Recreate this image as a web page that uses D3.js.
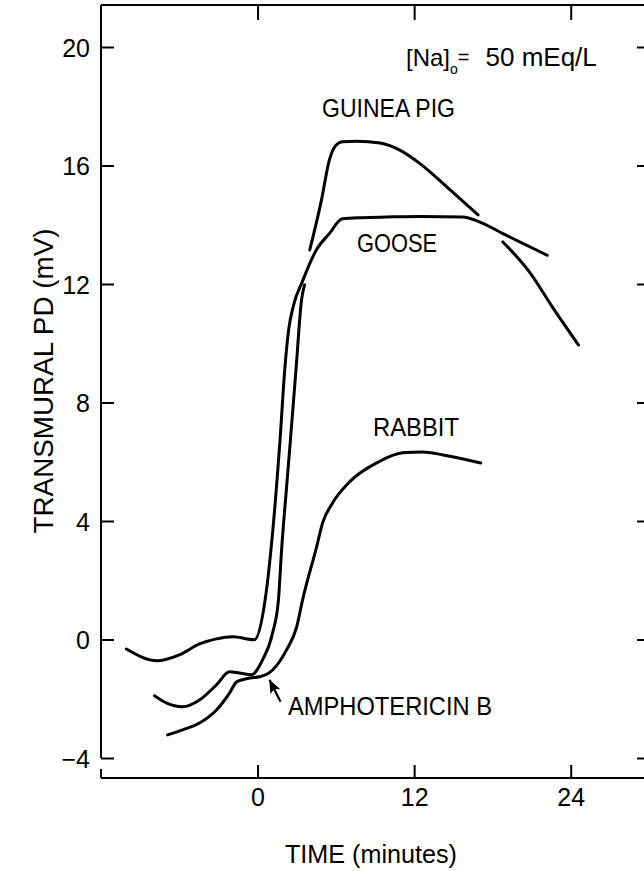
<!DOCTYPE html>
<html>
<head>
<meta charset="utf-8">
<script src="https://cdn.jsdelivr.net/npm/d3@7"></script>
<style>
  html, body { margin: 0; padding: 0; background: #fff; }
  svg { display: block; }
  text { font-family: "Liberation Sans", Arial, Helvetica, sans-serif; fill: #000; }
</style>
</head>
<body>
<svg id="chart" width="644" height="871"></svg>
<script>
// Axis ticks
const xTicks = [0, 12, 24];
const yTicks = [-4, 0, 4, 8, 12, 16, 20];

// Transmural PD traces (time in minutes, PD in mV); NaN marks a break in the pen trace
const timeGoose = [-10.05, -7.7, -6.0, -4.45, -3.15, -1.9, -0.25, 0.6, 1.15, 1.7, 2.1, 2.38, 2.76, 3.45, 4.5, 5.5, 6.5, 8.0, 9.9, 12.5, 15.7, 17.0, 18.8, 22.2];
const pdGoose   = [-0.32, -0.72, -0.52, -0.15, 0.02, 0.09, -0.01, 1.4, 3.6, 6.6, 9.2, 10.45, 11.29, 12.1, 13.15, 13.7, 14.2, 14.24, 14.26, 14.28, 14.26, 14.1, 13.7, 12.97];

const timeGuineaPig = [-7.9, -7.0, -5.75, -4.45, -3.15, -2.15, -1.4, -0.47, 0.38, 1.15, 1.6, 1.84, 2.25, 2.5, 2.96, 3.37, 3.6,
                       NaN, 4.0, 4.9, 5.5, 5.9, 6.5, 7.6, 9.4, 10.9, 12.4, 14.5, 16.9,
                       NaN, 18.8, 20.9, 22.6, 24.6];
const pdGuineaPig   = [-1.9, -2.14, -2.27, -2.04, -1.53, -1.09, -1.13, -1.19, -0.69, 0.22, 1.34, 3.02, 5.29, 6.64, 9.2, 11.46, 11.97,
                       NaN, 13.15, 14.84, 16.18, 16.62, 16.8, 16.82, 16.76, 16.52, 16.08, 15.28, 14.33,
                       NaN, 13.42, 12.37, 11.22, 9.94];

const timeRabbit = [-6.9, -5.75, -4.45, -3.15, -2.15, -1.6, -0.6, 0.15, 1.15, 2.22, 3.0, 3.45, 4.52, 4.98, 5.75, 7.05, 9.13, 11.1, 12.65, 14.2, 17.1];
const pdRabbit   = [-3.22, -3.05, -2.82, -2.38, -1.81, -1.43, -1.3, -1.26, -1.03, -0.35, 0.43, 1.34, 3.12, 3.93, 4.61, 5.32, 5.96, 6.3, 6.33, 6.23, 5.96];

const seriesNames = ["GUINEA PIG", "GOOSE", "RABBIT"];

// Arrow marking the addition of amphotericin B: [tail, head] as [time, PD]
const drugArrow = [[1.76, -2.1], [0.92, -1.37]];

const svg = d3.select("#chart");

const x = d3.scaleLinear().domain([-12, 30]).range([101, 649]);
const y = d3.scaleLinear().domain([-4, 20]).range([758, 47]);

// Frame extents in data units
const frameTop = 21.42, baseAxis = -4.675;

const frame = svg.append("g").attr("stroke", "#000").attr("stroke-width", 2).attr("fill", "none");

// left axis spine (ends at -4 with its tick) and top border
frame.append("line").attr("x1", x(-12)).attr("x2", x(-12)).attr("y1", y(frameTop)).attr("y2", y(-4));
frame.append("line").attr("x1", x(-12)).attr("x2", x(30)).attr("y1", y(frameTop)).attr("y2", y(frameTop));
// bottom time axis
frame.append("line").attr("x1", x(-12)).attr("x2", x(30)).attr("y1", y(baseAxis)).attr("y2", y(baseAxis));
frame.append("line").attr("x1", x(-12)).attr("x2", x(-12)).attr("y1", y(baseAxis)).attr("y2", y(baseAxis) - 9);

// Left ticks + labels
const axisL = d3.axisLeft(y).tickValues(yTicks).tickSize(-13).tickPadding(11)
  .tickFormat(d => d < 0 ? "\u2212" + Math.abs(d) : d);
const gl = svg.append("g").attr("transform", `translate(${x(-12)},0)`).call(axisL);
gl.select(".domain").remove();
gl.selectAll(".tick line").attr("stroke", "#000").attr("stroke-width", 2);
gl.selectAll(".tick text").attr("font-size", 25).attr("font-family", "Liberation Sans, Arial, sans-serif").attr("dy", "0.36em");

// Right ticks
const axisR = d3.axisRight(y).tickValues(yTicks).tickSize(-12).tickFormat("");
const gr = svg.append("g").attr("transform", `translate(${x(30)},0)`).call(axisR);
gr.select(".domain").remove();
gr.selectAll(".tick line").attr("stroke", "#000").attr("stroke-width", 2);

// Bottom ticks + labels
const axisB = d3.axisBottom(x).tickValues(xTicks).tickSize(-13).tickPadding(10).tickFormat(d3.format("d"));
const gb = svg.append("g").attr("transform", `translate(0,${y(baseAxis)})`).call(axisB);
gb.select(".domain").remove();
gb.selectAll(".tick line").attr("stroke", "#000").attr("stroke-width", 2);
gb.selectAll(".tick text").attr("font-size", 25).attr("font-family", "Liberation Sans, Arial, sans-serif").attr("dy", "0.72em");

// Top ticks
const axisT = d3.axisTop(x).tickValues(xTicks).tickSize(-15).tickFormat("");
const gt = svg.append("g").attr("transform", `translate(0,${y(frameTop)})`).call(axisT);
gt.select(".domain").remove();
gt.selectAll(".tick line").attr("stroke", "#000").attr("stroke-width", 2);

// Traces
const toPoints = (ts, vs) => ts.map((t, i) => [t, vs[i]]);
const traceLine = d3.line()
  .defined(d => !isNaN(d[0]) && !isNaN(d[1]))
  .x(d => x(d[0])).y(d => y(d[1]))
  .curve(d3.curveMonotoneX);

const traces = [
  toPoints(timeGuineaPig, pdGuineaPig),
  toPoints(timeGoose, pdGoose),
  toPoints(timeRabbit, pdRabbit)
];
svg.append("g").selectAll("path").data(traces).join("path")
  .attr("d", traceLine)
  .attr("fill", "none").attr("stroke", "#000").attr("stroke-width", 3)
  .attr("stroke-linecap", "round").attr("stroke-linejoin", "round");

// Trace labels
const labelPos = [
  { x: 322, y: 117, len: 133 },
  { x: 357, y: 252, len: 80 },
  { x: 373, y: 436, len: 86 }
];
svg.append("g").selectAll("text").data(seriesNames).join("text")
  .attr("x", (d, i) => labelPos[i].x).attr("y", (d, i) => labelPos[i].y)
  .attr("font-size", 26)
  .attr("textLength", (d, i) => labelPos[i].len).attr("lengthAdjust", "spacingAndGlyphs")
  .text(d => d);

// Amphotericin B arrow
svg.append("defs").append("marker")
  .attr("id", "head").attr("markerUnits", "userSpaceOnUse")
  .attr("viewBox", "0 0 14 11").attr("refX", 13).attr("refY", 5.5)
  .attr("markerWidth", 14).attr("markerHeight", 11).attr("orient", "auto")
  .append("path").attr("d", "M0,0 L14,5.5 L0,11 L3,5.5 Z").attr("fill", "#000");
svg.append("line")
  .attr("x1", x(drugArrow[0][0])).attr("y1", y(drugArrow[0][1]))
  .attr("x2", x(drugArrow[1][0])).attr("y2", y(drugArrow[1][1]))
  .attr("stroke", "#000").attr("stroke-width", 2.2).attr("marker-end", "url(#head)");
svg.append("text").attr("x", 288).attr("y", 715).attr("font-size", 25)
  .attr("textLength", 204).attr("lengthAdjust", "spacingAndGlyphs").text("AMPHOTERICIN B");

// Bath sodium concentration, with subscript o
const na = svg.append("text").attr("x", 406).attr("y", 66).attr("font-size", 24);
na.append("tspan").text("[Na]");
na.append("tspan").attr("dy", 8).attr("font-size", 14).text("o");
na.append("tspan").attr("dy", -10).attr("font-size", 20).text("=");
na.append("tspan").attr("dy", 2).attr("dx", 16).attr("font-size", 26).text("50 mEq/L");

// Axis titles
svg.append("text").attr("x", 371).attr("y", 863).attr("text-anchor", "middle").attr("font-size", 25)
  .attr("textLength", 172).attr("lengthAdjust", "spacingAndGlyphs").text("TIME (minutes)");
svg.append("text").attr("transform", "translate(53,381) rotate(-90)").attr("text-anchor", "middle")
  .attr("font-size", 27).attr("textLength", 305).attr("lengthAdjust", "spacingAndGlyphs")
  .text("TRANSMURAL PD (mV)");
</script>
</body>
</html>
